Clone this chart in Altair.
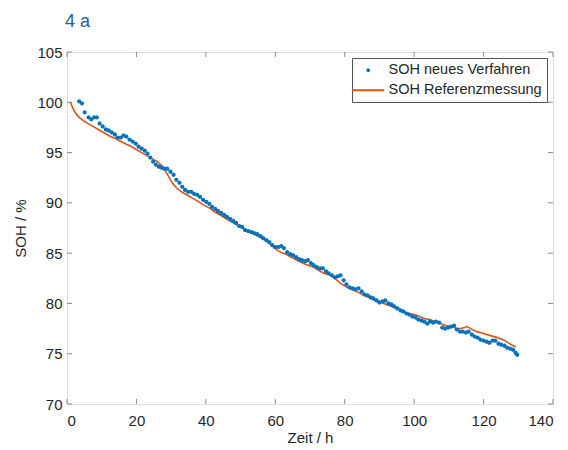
import altair as alt
import pandas as pd

FONT = "Liberation Sans"

# blue dots: SOH neues Verfahren
t_new = [3.5, 4.3, 5.1, 6.2, 7.0, 7.8, 8.6, 9.4, 10.3, 11.2, 12.0, 12.9, 13.8, 14.6, 15.5, 16.3, 17.1, 18.0,
         18.9, 19.8, 20.6, 21.5, 22.4, 23.2, 24.0, 24.8, 25.6, 26.5, 27.3, 28.1, 28.9, 29.8, 30.7, 31.5, 32.4,
         33.2, 34.0, 34.9, 35.8, 36.6, 37.5, 38.3, 39.2, 40.1, 41.0, 41.8, 42.7, 43.5, 44.4, 45.3, 46.1, 47.0,
         47.9, 48.7, 49.6, 50.5, 51.3, 52.2, 53.1, 53.9, 54.8, 55.7, 56.5, 57.4, 58.3, 59.1, 60.0, 60.9, 61.7,
         62.5, 63.4, 64.3, 65.1, 66.0, 66.9, 67.7, 68.6, 69.4, 70.3, 71.1, 72.0, 72.9, 73.7, 74.6, 75.4, 76.3,
         77.2, 78.0, 78.8, 79.7, 80.5, 81.4, 82.3, 83.1, 84.0, 84.9, 85.7, 86.6, 87.5, 88.3, 89.2, 90.0, 90.9,
         91.7, 92.6, 93.5, 94.3, 95.2, 96.1, 96.9, 97.8, 98.6, 99.5, 100.4, 101.2, 102.1, 102.9, 103.8, 104.6,
         105.5, 106.3, 107.2, 108.1, 108.9, 109.8, 110.6, 111.5, 112.3, 113.2, 114.0, 114.9, 115.7, 116.6,
         117.4, 118.3, 119.1, 120.0, 120.9, 121.7, 122.6, 123.4, 124.3, 125.1, 126.0, 126.8, 127.7, 128.5,
         129.2, 129.7]
soh_new = [100.1, 99.9, 99.0, 98.5, 98.3, 98.5, 98.5, 97.9, 97.6, 97.3, 97.2, 97.0, 96.8, 96.5, 96.5, 96.7,
           96.6, 96.3, 96.1, 95.9, 95.6, 95.4, 95.2, 94.9, 94.5, 94.1, 93.8, 93.6, 93.5, 93.4, 93.4, 93.1,
           92.8, 92.3, 92.0, 91.6, 91.3, 91.1, 91.1, 90.9, 90.8, 90.6, 90.3, 90.1, 89.9, 89.6, 89.4, 89.2,
           89.0, 88.8, 88.6, 88.4, 88.2, 88.0, 87.7, 87.6, 87.3, 87.2, 87.1, 87.0, 86.9, 86.7, 86.5, 86.3,
           86.1, 85.8, 85.6, 85.6, 85.7, 85.5, 85.1, 84.9, 84.8, 84.6, 84.4, 84.3, 84.2, 84.3, 84.0, 83.8,
           83.6, 83.5, 83.5, 83.2, 83.0, 82.8, 82.6, 82.7, 82.8, 82.3, 81.9, 81.6, 81.5, 81.4, 81.5, 81.2,
           80.9, 80.8, 80.6, 80.5, 80.3, 80.1, 80.2, 80.3, 80.0, 79.9, 79.7, 79.5, 79.3, 79.2, 79.0, 78.9,
           78.7, 78.6, 78.4, 78.3, 78.2, 78.0, 78.2, 78.1, 78.2, 78.1, 77.6, 77.5, 77.6, 77.7, 77.8, 77.4,
           77.2, 77.2, 77.1, 77.2, 76.9, 76.7, 76.6, 76.4, 76.3, 76.2, 76.1, 76.3, 76.3, 76.0, 75.9, 75.8,
           75.6, 75.5, 75.4, 75.1, 74.9]

# orange line: SOH Referenzmessung
t_ref = [1.0, 1.7, 2.5, 3.5, 5.0, 6.5, 8.0, 9.5, 11.0, 12.5, 14.0, 15.5, 17.0, 18.5, 20.0, 21.5, 23.0, 24.5,
         26.0, 27.3, 28.3, 29.3, 30.3, 31.5, 33.0, 34.5, 36.0, 37.5, 39.3, 41.0, 42.5, 44.1, 45.5, 47.0, 49.0,
         50.5, 52.0, 53.8, 55.5, 57.0, 58.6, 59.5, 60.5, 61.5, 63.0, 64.5, 66.3, 68.0, 69.5, 71.1, 72.5, 74.0,
         75.9, 77.5, 78.8, 80.7, 82.5, 84.0, 85.5, 87.0, 88.8, 90.3, 92.0, 93.5, 95.1, 97.0, 98.5, 100.0,
         101.5, 102.8, 104.5, 106.0, 107.6, 109.0, 110.5, 112.4, 113.5, 114.5, 115.3, 116.3, 117.3, 118.2,
         120.0, 122.0, 124.0, 125.9, 127.5, 128.5, 129.3]
soh_ref = [100.0, 99.4, 98.9, 98.5, 98.1, 97.8, 97.5, 97.2, 96.9, 96.6, 96.4, 96.1, 95.85, 95.6, 95.3, 95.0,
           94.7, 94.4, 94.1, 93.7, 93.2, 92.6, 92.0, 91.5, 91.1, 90.8, 90.5, 90.2, 89.8, 89.5, 89.1, 88.8,
           88.5, 88.2, 87.8, 87.5, 87.2, 86.9, 86.6, 86.3, 85.9, 85.6, 85.3, 85.1, 84.9, 84.6, 84.3, 84.0,
           83.8, 83.6, 83.3, 83.0, 82.8, 82.4, 82.0, 81.6, 81.3, 81.1, 80.8, 80.6, 80.3, 80.14, 79.9, 79.7,
           79.5, 79.2, 79.0, 78.9, 78.7, 78.5, 78.4, 78.2, 78.0, 77.8, 77.7, 77.5, 77.5, 77.6, 77.7, 77.5,
           77.3, 77.17, 77.0, 76.8, 76.6, 76.35, 76.0, 75.8, 75.7]

series_names = ["SOH neues Verfahren", "SOH Referenzmessung"]
series_colors = ["#0072BD", "#D95319"]
x_ticks = [0, 20, 40, 60, 80, 100, 120, 140]
y_ticks = [70, 75, 80, 85, 90, 95, 100, 105]

W, H = 486, 352
FRAME = "#8c8c8c"
TXT = "#262626"

df_new = pd.DataFrame({"t": t_new, "soh": soh_new, "series": series_names[0]})
df_ref = pd.DataFrame({"t": t_ref, "soh": soh_ref, "series": series_names[1]})
df_xt = pd.DataFrame({"t": x_ticks})
df_yt = pd.DataFrame({"soh": y_ticks})

xscale = alt.Scale(domain=[0, 140], nice=False, zero=False)
yscale = alt.Scale(domain=[70, 105], nice=False, zero=False)

dot_path = "M0,-0.25A0.25,0.25 0 1,1 0,0.25A0.25,0.25 0 1,1 0,-0.25Z"
line_path = "M-4,0L4,0"

X = alt.X("t:Q", scale=xscale, title="Zeit / h",
          axis=alt.Axis(values=x_ticks, ticks=False, domain=False, grid=False,
                        labelFontSize=15, labelColor=TXT, labelFont=FONT, labelPadding=9,
                        titleFontSize=15, titleColor=TXT, titleFont=FONT, titleFontWeight="normal",
                        titlePadding=2))
Y = alt.Y("soh:Q", scale=yscale, title="SOH / %",
          axis=alt.Axis(values=y_ticks, ticks=False, domain=False, grid=False,
                        labelFontSize=15, labelColor=TXT, labelFont=FONT, labelPadding=5,
                        titleFontSize=15, titleColor=TXT, titleFont=FONT, titleFontWeight="normal",
                        titlePadding=8))

leg = dict(title=None, orient="none", legendX=285, legendY=6,
           fillColor="white", strokeColor="#555555", padding=5,
           labelFontSize=14.5, labelFont=FONT, labelColor=TXT,
           labelOffset=13, symbolOffset=4, rowPadding=5, symbolStrokeWidth=1.8,
           symbolSize=64)

points = alt.Chart(df_new).mark_point(filled=False, size=64, strokeWidth=2.2, opacity=1).encode(
    x=X, y=Y,
    color=alt.Color("series:N", scale=alt.Scale(domain=series_names, range=series_colors),
                    legend=alt.Legend(**leg)),
    shape=alt.Shape("series:N", scale=alt.Scale(domain=series_names, range=[dot_path, line_path]),
                    legend=alt.Legend(**leg)),
)

line = alt.Chart(df_ref).mark_line(color=series_colors[1], strokeWidth=1.6).encode(
    x=alt.X("t:Q", scale=xscale), y=alt.Y("soh:Q", scale=yscale))

tick_style = dict(color=FRAME, strokeWidth=1)
tb = alt.Chart(df_xt).mark_rule(**tick_style).encode(
    x=alt.X("t:Q", scale=xscale), y=alt.value(H), y2=alt.value(H - 5))
tt = alt.Chart(df_xt).mark_rule(**tick_style).encode(
    x=alt.X("t:Q", scale=xscale), y=alt.value(0), y2=alt.value(5))
tl = alt.Chart(df_yt).mark_rule(**tick_style).encode(
    y=alt.Y("soh:Q", scale=yscale), x=alt.value(0), x2=alt.value(5))
tr = alt.Chart(df_yt).mark_rule(**tick_style).encode(
    y=alt.Y("soh:Q", scale=yscale), x=alt.value(W), x2=alt.value(W - 5))

chart = alt.layer(tb, tt, tl, tr, line, points).properties(
    width=W, height=H,
    autosize=alt.AutoSizeParams(type="none"),
    padding={"left": 59, "top": 44, "right": 7, "bottom": 45},
    title=alt.TitleParams("4 a", anchor="start", frame="group", fontSize=18, fontWeight="normal",
                          color="#1f5c99", font=FONT, offset=14, dx=-2),
).configure_view(stroke=FRAME, strokeWidth=1.2).configure(background="white")

chart.save("out.html", embed_options={"renderer": "svg", "actions": False})
